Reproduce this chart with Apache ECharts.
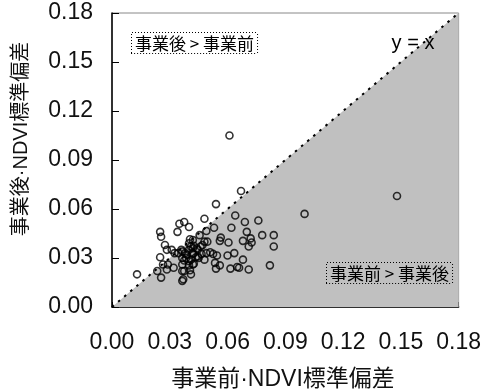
<!DOCTYPE html>
<html>
<head>
<meta charset="utf-8">
<script src="https://cdn.jsdelivr.net/npm/echarts@6/dist/echarts.min.js"></script>
<style>html,body{margin:0;padding:0;background:#fff}#c{width:484px;height:392px}</style>
</head>
<body>
<div id="c"></div>
<script>
// x: 事業前 NDVI standard deviation, y: 事業後 NDVI standard deviation
var points = [
[0.061,0.105],[0.067,0.071],[0.054,0.063],[0.100,0.057],[0.148,0.068],[0.013,0.020],
[0.064,0.056],[0.069,0.052],[0.076,0.053],[0.048,0.054],[0.0375,0.052],[0.035,0.051],
[0.040,0.049],[0.025,0.046],[0.0255,0.043],[0.034,0.046],[0.053,0.0485],[0.062,0.0485],
[0.049,0.0465],[0.070,0.046],[0.078,0.044],[0.084,0.044],[0.0455,0.044],[0.072,0.042],
[0.0565,0.0425],[0.056,0.0405],[0.068,0.0405],[0.0725,0.0395],[0.0605,0.0395],[0.0495,0.040],
[0.071,0.037],[0.084,0.037],[0.0405,0.0415],[0.0275,0.038],[0.0285,0.035],[0.031,0.035],
[0.0325,0.033],[0.047,0.038],[0.051,0.0335],[0.0525,0.0325],[0.0545,0.0315],[0.0465,0.0325],
[0.060,0.0315],[0.0635,0.033],[0.025,0.0305],[0.068,0.029],[0.0535,0.027],[0.056,0.0255],
[0.054,0.0235],[0.0615,0.0235],[0.065,0.0245],[0.066,0.024],[0.071,0.023],[0.082,0.0255],
[0.0265,0.026],[0.029,0.026],[0.032,0.024],[0.0285,0.023],[0.0235,0.022],[0.0255,0.018],
[0.037,0.017],[0.0365,0.016],[0.041,0.020],[0.0405,0.0225],[0.0365,0.022],[0.042,0.026],
[0.0365,0.026],[0.040,0.039],[0.0425,0.0375],[0.044,0.036],[0.036,0.035],[0.040,0.035],
[0.038,0.033],[0.042,0.0325],[0.0365,0.030],[0.0385,0.030],[0.0435,0.0305],[0.045,0.030],
[0.040,0.028],[0.0375,0.0285],[0.042,0.036],[0.0345,0.033],[0.042,0.041],[0.041,0.037],
[0.0365,0.034],[0.039,0.032],[0.042,0.033],[0.0445,0.035],[0.041,0.029],[0.0445,0.031],
[0.040,0.0255],[0.0425,0.0265],[0.0375,0.022],[0.048,0.029],[0.049,0.033],[0.048,0.040],
[0.046,0.037]
];
var identityLine = [[0,0],[0.18,0.18]];
var axisMin = 0, axisMax = 0.18, axisStep = 0.03;
var xTitle = '事業前·NDVI標準偏差';
var yTitle = '事業後·NDVI標準偏差';
var upperLabel = '事業後 > 事業前';
var lowerLabel = '事業前 > 事業後';
var lineLabel = 'y = x';

var latin = "'Liberation Sans Narrow','Arial Narrow','Liberation Sans','Noto Sans CJK JP',sans-serif";
var chart = echarts.init(document.getElementById('c'), null, {renderer:'canvas'});
var fmt = function(v){ return v.toFixed(2); };
chart.setOption({
  animation:false,
  backgroundColor:'#fff',
  grid:{left:112,right:22,top:13,bottom:85,show:true,borderColor:'#888',borderWidth:1,backgroundColor:'transparent'},
  xAxis:{type:'value',min:axisMin,max:axisMax,interval:axisStep,
    axisLine:{show:true,onZero:false,lineStyle:{color:'#000',width:1.5}},
    axisTick:{show:true,inside:true,length:5,lineStyle:{color:'#000',width:1}},
    splitLine:{show:false},
    axisLabel:{formatter:fmt,color:'#111',fontSize:23,fontFamily:latin,margin:24}},
  yAxis:{type:'value',min:axisMin,max:axisMax,interval:axisStep,
    axisLine:{show:true,onZero:false,lineStyle:{color:'#000',width:1.5}},
    axisTick:{show:true,inside:true,length:7,lineStyle:{color:'#000',width:1}},
    splitLine:{show:false},
    axisLabel:{formatter:fmt,color:'#111',fontSize:23,fontFamily:latin,margin:19}},
  series:[
    {type:'line',data:identityLine,symbol:'none',silent:true,z:1,
     lineStyle:{width:0,opacity:0},areaStyle:{color:'#c0c0c0',opacity:1,origin:'start'}},
    {type:'line',data:identityLine,symbol:'none',silent:true,z:2,
     lineStyle:{color:'#000',width:2,type:[2.5,5.5]}},
    {type:'scatter',data:points,symbol:'circle',symbolSize:7,z:3,
     itemStyle:{color:'rgba(0,0,0,0)',borderColor:'#000',borderWidth:1.6}}
  ],
  graphic:[
    {type:'text',left:131,top:32,z:10,style:{text:upperLabel,font:"17px 'Noto Sans CJK JP'",fill:'#000',
      backgroundColor:'#fff',borderColor:'#000',borderWidth:1,borderDash:[1,2],padding:[2,3,1,3]}},
    {type:'text',left:326,top:262,z:10,style:{text:lowerLabel,font:"17px 'Noto Sans CJK JP'",fill:'#000',
      backgroundColor:'#c0c0c0',borderColor:'#000',borderWidth:1,borderDash:[1,2],padding:[2,3,1,3]}},
    {type:'text',x:413,y:43,z:10,style:{text:lineLabel,font:"20px "+latin,fill:'#000',align:'center',verticalAlign:'middle'}},
    {type:'text',x:283,y:380,z:10,style:{text:xTitle,font:"23px "+latin,fill:'#111',align:'center',verticalAlign:'middle'}},
    {type:'text',x:21,y:139,rotation:Math.PI/2,z:10,style:{text:yTitle,font:"20px "+latin,fill:'#111',align:'center',verticalAlign:'middle'}}
  ]
});
</script>
</body>
</html>
